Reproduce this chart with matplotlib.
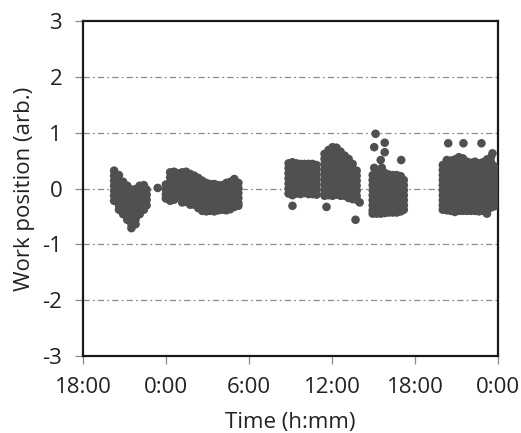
import matplotlib
matplotlib.use("Agg")
import matplotlib.pyplot as plt

plt.rcParams['font.family'] = ['Open Sans', 'DejaVu Sans']
plt.rcParams['axes.unicode_minus'] = False

# Time axis in hours elapsed since 18:00 on the first evening.
tick_hours = [0, 6, 12, 18, 24, 30]
tick_labels = ['18:00', '0:00', '6:00', '12:00', '18:00', '0:00']
y_ticks = [-3, -2, -1, 0, 1, 2, 3]

# Session 1 (evening): sample times and the positions logged at each time.
s1_t = [2.25, 2.6, 2.9, 3.2, 3.5, 3.8, 4.1, 4.4, 4.6, 5.4]
s1_y = [
    [0.32, 0.23, 0.14, 0.05, -0.04, -0.13, -0.22],
    [0.24, 0.15, 0.06, -0.03, -0.12, -0.21, -0.30, -0.38],
    [0.12, 0.03, -0.06, -0.15, -0.24, -0.33, -0.42, -0.46],
    [0.05, -0.04, -0.13, -0.22, -0.31, -0.40, -0.49, -0.56],
    [-0.02, -0.11, -0.20, -0.29, -0.38, -0.47, -0.56, -0.64, -0.71],
    [-0.01, -0.10, -0.19, -0.28, -0.37, -0.46, -0.55, -0.64],
    [0.05, -0.04, -0.13, -0.22, -0.31, -0.40, -0.46],
    [0.06, -0.03, -0.12, -0.21, -0.30, -0.38],
    [-0.02, -0.11, -0.20, -0.30],
    [0.01],
]

# Session 2 (overnight)
s2_t = [5.99, 6.30, 6.59, 6.88, 7.17, 7.46, 7.75, 8.04, 8.33, 8.62,
        8.91, 9.20, 9.49, 9.78, 10.07, 10.36, 10.65, 10.94, 11.23]
s2_y = [
    [0.07, -0.02, -0.11, -0.18],
    [0.29, 0.20, 0.11, 0.02, -0.07, -0.16, -0.22],
    [0.30, 0.21, 0.12, 0.03, -0.06, -0.15, -0.20],
    [0.27, 0.18, 0.09, 0.00, -0.09, -0.14],
    [0.29, 0.20, 0.11, 0.02, -0.07, -0.16, -0.25],
    [0.30, 0.21, 0.12, 0.03, -0.06, -0.15, -0.24],
    [0.26, 0.17, 0.08, -0.01, -0.10, -0.19, -0.29],
    [0.23, 0.14, 0.05, -0.04, -0.13, -0.22, -0.29],
    [0.19, 0.10, 0.01, -0.08, -0.17, -0.26, -0.35],
    [0.14, 0.05, -0.04, -0.13, -0.22, -0.31, -0.40],
    [0.10, 0.01, -0.08, -0.17, -0.26, -0.35, -0.41],
    [0.08, -0.01, -0.10, -0.19, -0.28, -0.37, -0.40],
    [0.08, -0.01, -0.10, -0.19, -0.28, -0.37, -0.41],
    [0.06, -0.03, -0.12, -0.21, -0.30, -0.39],
    [0.06, -0.03, -0.12, -0.21, -0.30, -0.38],
    [0.10, 0.01, -0.08, -0.17, -0.26, -0.35, -0.39],
    [0.12, 0.03, -0.06, -0.15, -0.24, -0.33, -0.37],
    [0.17, 0.08, -0.01, -0.10, -0.19, -0.28, -0.33],
    [0.10, 0.01, -0.08, -0.17, -0.26, -0.31],
]

# Session 3 (morning)
s3_t = [14.86, 15.14, 15.43, 15.72, 16.01, 16.30, 16.59, 16.88]
s3_y = [
    [0.45, 0.36, 0.27, 0.18, 0.09, 0.00, -0.09],
    [0.47, 0.38, 0.29, 0.20, 0.11, 0.02, -0.07, -0.12, -0.31],
    [0.45, 0.36, 0.27, 0.18, 0.09, 0.00, -0.09],
    [0.44, 0.35, 0.26, 0.17, 0.08, -0.01, -0.10],
    [0.44, 0.35, 0.26, 0.17, 0.08, -0.01, -0.08],
    [0.44, 0.35, 0.26, 0.17, 0.08, -0.01, -0.10],
    [0.44, 0.35, 0.26, 0.17, 0.08, -0.01, -0.10],
    [0.42, 0.33, 0.24, 0.15, 0.06, -0.03, -0.11],
]

# Session 4 (midday)
s4_t = [17.46, 17.60, 17.75, 18.04, 18.33, 18.62, 18.91, 19.20, 19.49,
        19.70, 19.78, 20.00]
s4_y = [
    [0.62, 0.53, 0.44, 0.35, 0.26, 0.17, 0.08, -0.01, -0.10, -0.13],
    [-0.33],
    [0.69, 0.60, 0.51, 0.42, 0.33, 0.24, 0.15, 0.06, -0.03, -0.12],
    [0.74, 0.65, 0.56, 0.47, 0.38, 0.29, 0.20, 0.11, 0.02, -0.07, -0.13],
    [0.73, 0.64, 0.55, 0.46, 0.37, 0.28, 0.19, 0.10, 0.01, -0.08, -0.11],
    [0.66, 0.57, 0.48, 0.39, 0.30, 0.21, 0.12, 0.03, -0.06, -0.13],
    [0.59, 0.50, 0.41, 0.32, 0.23, 0.14, 0.05, -0.04, -0.13],
    [0.53, 0.44, 0.35, 0.26, 0.17, 0.08, -0.01, -0.10, -0.17],
    [0.44, 0.35, 0.26, 0.17, 0.08, -0.01, -0.10, -0.19],
    [-0.56],
    [0.32, 0.23, 0.14, 0.05, -0.04, -0.13, -0.20],
    [-0.25],
]

# Session 5 (afternoon)
s5_t = [20.94, 21.05, 21.15, 21.23, 21.52, 21.60, 21.81, 22.10, 22.39,
        22.68, 22.97, 23.00, 23.19]
s5_y = [
    [0.24, 0.15, 0.06, -0.03, -0.12, -0.21, -0.30, -0.39, -0.45],
    [0.74, 0.37],
    [0.98],
    [0.30, 0.21, 0.12, 0.03, -0.06, -0.15, -0.24, -0.33, -0.42, -0.45],
    [0.51, 0.27, 0.18, 0.09, 0.00, -0.09, -0.18, -0.27, -0.36, -0.45],
    [0.37],
    [0.82, 0.65, 0.28, 0.19, 0.10, 0.01, -0.08, -0.17, -0.26, -0.35, -0.44],
    [0.25, 0.16, 0.07, -0.02, -0.11, -0.20, -0.29, -0.38, -0.43],
    [0.24, 0.15, 0.06, -0.03, -0.12, -0.21, -0.30, -0.39, -0.43],
    [0.24, 0.15, 0.06, -0.03, -0.12, -0.21, -0.30, -0.39, -0.43],
    [0.22, 0.13, 0.04, -0.05, -0.14, -0.23, -0.32, -0.41],
    [0.51],
    [0.15, 0.06, -0.03, -0.12, -0.21, -0.30, -0.38],
]

# Session 6 (evening)
s6_t = [26.01, 26.30, 26.40, 26.59, 26.88, 27.17, 27.46, 27.50, 27.75,
        28.04, 28.33, 28.62, 28.80, 28.91, 29.20, 29.49, 29.60, 29.71]
s6_y = [
    [0.42, 0.33, 0.24, 0.15, 0.06, -0.03, -0.12, -0.21, -0.30, -0.38],
    [0.51, 0.42, 0.33, 0.24, 0.15, 0.06, -0.03, -0.12, -0.21, -0.30, -0.39],
    [0.81],
    [0.50, 0.41, 0.32, 0.23, 0.14, 0.05, -0.04, -0.13, -0.22, -0.31, -0.40],
    [0.52, 0.43, 0.34, 0.25, 0.16, 0.07, -0.02, -0.11, -0.20, -0.29, -0.38, -0.42],
    [0.56, 0.47, 0.38, 0.29, 0.20, 0.11, 0.02, -0.07, -0.16, -0.25, -0.34, -0.40],
    [0.54, 0.45, 0.36, 0.27, 0.18, 0.09, 0.00, -0.09, -0.18, -0.27, -0.36, -0.40],
    [0.81],
    [0.48, 0.39, 0.30, 0.21, 0.12, 0.03, -0.06, -0.15, -0.24, -0.33, -0.40],
    [0.46, 0.37, 0.28, 0.19, 0.10, 0.01, -0.08, -0.17, -0.26, -0.35, -0.40],
    [0.48, 0.39, 0.30, 0.21, 0.12, 0.03, -0.06, -0.15, -0.24, -0.33, -0.40],
    [0.45, 0.36, 0.27, 0.18, 0.09, 0.00, -0.09, -0.18, -0.27, -0.36, -0.41],
    [0.81],
    [0.47, 0.38, 0.29, 0.20, 0.11, 0.02, -0.07, -0.16, -0.25, -0.34, -0.40],
    [0.52, 0.43, 0.34, 0.25, 0.16, 0.07, -0.02, -0.11, -0.20, -0.29, -0.38, -0.45],
    [0.56, 0.47, 0.38, 0.29, 0.20, 0.11, 0.02, -0.07, -0.16, -0.25, -0.34],
    [0.63],
    [0.40, 0.31, 0.22, 0.13, 0.04, -0.05, -0.14, -0.23, -0.32],
]

sessions = [(s1_t, s1_y), (s2_t, s2_y), (s3_t, s3_y),
            (s4_t, s4_y), (s5_t, s5_y), (s6_t, s6_y)]

xs, ys = [], []
for times, values in sessions:
    for t, col in zip(times, values):
        xs.extend([t] * len(col))
        ys.extend(col)

fig = plt.figure(figsize=(5.21, 4.33), dpi=100)
ax = fig.add_axes([0.1593, 0.1778, 0.7966, 0.7737])

for yv in [-2, -1, 0, 1, 2]:
    ax.axhline(yv, color='#8c8c8c', lw=0.9, dashes=(5, 2.5, 1.5, 2.5), zorder=1)

ax.scatter(xs, ys, s=38, color='#505050', edgecolors='none', zorder=3)

ax.set_xlim(tick_hours[0], tick_hours[-1])
ax.set_ylim(-3, 3)
ax.set_xticks(tick_hours)
ax.set_xticklabels(tick_labels)
ax.set_yticks(y_ticks)

for side in ['left', 'right', 'top', 'bottom']:
    ax.spines[side].set_color('#1a1a1a')
    ax.spines[side].set_linewidth(1.6)

ax.tick_params(axis='both', direction='out', length=6, width=0.9,
               color='#8c8c8c', labelsize=16, labelcolor='#222222')
ax.tick_params(axis='y', pad=9)
ax.tick_params(axis='x', pad=9)

ax.set_xlabel('Time (h:mm)', fontsize=16, color='#222222', labelpad=10)
ax.set_ylabel('Work position (arb.)', fontsize=16, color='#222222', labelpad=5)

fig.savefig('out.png', dpi=100)
